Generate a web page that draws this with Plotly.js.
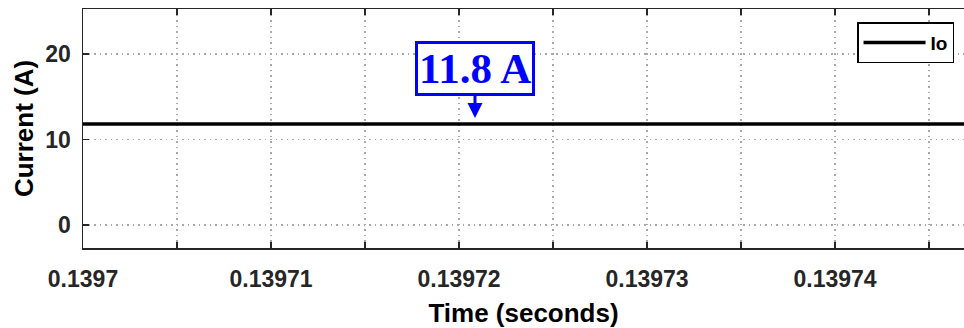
<!DOCTYPE html>
<html>
<head>
<meta charset="utf-8">
<script src="https://cdn.plot.ly/plotly-3.0.1.min.js"></script>
<style>html,body{margin:0;padding:0;background:#fff;}#chart{width:964px;height:328px;}</style>
</head>
<body>
<div id="chart"></div>
<script>
// Data
const timeSeconds = [0.1397, 0.139705, 0.13971, 0.139715, 0.13972, 0.139725, 0.13973, 0.139735, 0.13974, 0.139745, 0.13975];
const currentIo = [11.8, 11.8, 11.8, 11.8, 11.8, 11.8, 11.8, 11.8, 11.8, 11.8, 11.8];
const seriesName = 'Io';
const xTickVals = [0.1397, 0.13971, 0.13972, 0.13973, 0.13974];
const xTickText = ['0.1397', '0.13971', '0.13972', '0.13973', '0.13974'];
const yTickVals = [0, 10, 20];
const markerLabel = '11.8 A';
const markerTime = 0.13972085;
const markerValue = 12.5;

const axisColor = '#262626';
const gridColor = '#a8a8a8';
const gridDash = '1.5px,4px';
const tickFont = {family: 'Liberation Sans, Arial, sans-serif', size: 23, color: axisColor, weight: 'bold'};

const trace = {
  x: timeSeconds, y: currentIo, name: seriesName, type: 'scatter', mode: 'lines',
  line: {color: '#000000', width: 3.5}
};

const layout = {
  width: 964, height: 328,
  margin: {l: 83, r: 0, t: 9, b: 80},
  paper_bgcolor: '#ffffff', plot_bgcolor: '#ffffff',
  showlegend: true,
  legend: {
    x: 0.9887, xanchor: 'right', y: 0.945, yanchor: 'top',
    bordercolor: '#000000', borderwidth: 1.5, bgcolor: '#ffffff',
    itemwidth: 62, tracegroupgap: 0,
    font: {family: 'Liberation Sans, Arial, sans-serif', size: 19, color: '#000000', weight: 'bold'}
  },
  xaxis: {
    range: [0.1397, 0.13974686],
    tickmode: 'array', tickvals: xTickVals, ticktext: xTickText,
    ticks: 'inside', ticklen: 6, tickwidth: 1.2, tickcolor: axisColor,
    showline: true, linecolor: axisColor, linewidth: 1.5, mirror: 'ticks',
    showgrid: true, gridcolor: gridColor, griddash: gridDash, gridwidth: 1.2,
    minor: {dtick: 0.000005, tick0: 0.1397, ticks: 'inside', ticklen: 6, tickcolor: axisColor, showgrid: true, gridcolor: gridColor, griddash: gridDash, gridwidth: 1.2},
    zeroline: false,
    ticklabelstandoff: 10,
    tickfont: tickFont,
    title: {text: 'Time (seconds)', font: {family: 'Liberation Sans, Arial, sans-serif', size: 26, color: '#000000', weight: 'bold'}, standoff: 12}
  },
  yaxis: {
    range: [-2.69, 25.26],
    tickmode: 'array', tickvals: yTickVals,
    ticks: 'inside', ticklen: 6, tickwidth: 1.2, tickcolor: axisColor,
    showline: true, linecolor: axisColor, linewidth: 1.5, mirror: false,
    showgrid: true, gridcolor: gridColor, griddash: gridDash, gridwidth: 1.2,
    zeroline: false,
    ticklabelstandoff: 6,
    tickfont: tickFont,
    title: {text: 'Current (A)', font: {family: 'Liberation Sans, Arial, sans-serif', size: 26, color: '#000000', weight: 'bold'}, standoff: 4}
  },
  annotations: [{
    x: markerTime, y: markerValue, xref: 'x', yref: 'y',
    text: '<b>' + markerLabel + '</b>',
    font: {family: 'Liberation Serif, Times New Roman, serif', size: 43, color: '#0000ff'},
    showarrow: true, ax: 0, ay: -50,
    arrowhead: 2, arrowsize: 1, arrowwidth: 3, arrowcolor: '#0000ff',
    bordercolor: '#0000ff', borderwidth: 3, borderpad: 1, bgcolor: '#ffffff'
  }]
};

Plotly.newPlot('chart', [trace], layout, {displayModeBar: false, staticPlot: true});
</script>
</body>
</html>
